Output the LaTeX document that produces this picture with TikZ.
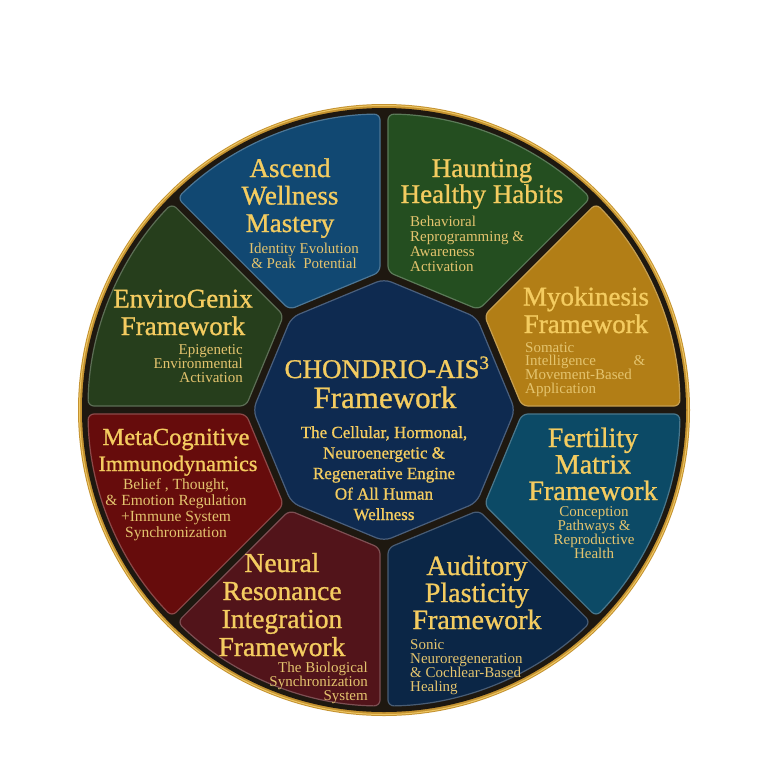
\documentclass[tikz,border=0pt]{standalone}
\usepackage{fontspec}
\setmainfont{Liberation Serif}
\newfontfamily\titlefont[FakeBold=1]{Liberation Serif}
\definecolor{ringgold}{RGB}{196,146,48}
\definecolor{ringlight}{RGB}{238,198,98}
\definecolor{gapdark}{RGB}{30,24,16}
\definecolor{ascc}{RGB}{17,72,114}
\definecolor{hauc}{RGB}{36,78,32}
\definecolor{myoc}{RGB}{178,126,22}
\definecolor{ferc}{RGB}{12,74,102}
\definecolor{audc}{RGB}{11,38,70}
\definecolor{neuc}{RGB}{82,20,26}
\definecolor{metc}{RGB}{102,12,12}
\definecolor{envc}{RGB}{38,62,28}
\definecolor{hubc}{RGB}{14,42,80}
\definecolor{titlegold}{RGB}{244,204,96}
\definecolor{subgold}{RGB}{228,196,110}
\tikzset{
  sector/.style={fill=#1, draw=#1!75!white, line width=1.2pt, rounded corners=6pt},
  ttl/.style={text=titlegold, font=\titlefont\fontsize{27}{27.5}\selectfont, align=center, inner sep=0pt, anchor=base},
  sub/.style={text=subgold, font=\fontsize{15}{14.8}\selectfont, inner sep=0pt, anchor=base},
}
\begin{document}
\begin{tikzpicture}[x=1pt,y=1pt]
\useasboundingbox (0,0) rectangle (768,-777);
% ring
\begin{scope}[shift={(384,-410)}]
  \fill[ringgold] (0,0) circle[radius=306];
  \draw[ringlight, line width=1pt] (0,0) circle[radius=304.5];
  \fill[gapdark] (0,0) circle[radius=302];
  \foreach \a/\c in {22.5/myoc, 67.5/hauc, 112.5/ascc, 157.5/envc, 202.5/metc, 247.5/neuc, 292.5/audc, 337.5/ferc}{
    \path[sector=\c, rotate=\a] (129,-49.1) -- (-21.73:296) arc[start angle=-21.73, end angle=21.73, radius=296] -- (129,49.1) -- cycle;
  }
  \path[sector=hubc, rounded corners=8pt] (0:131) -- (45:131) -- (90:131) -- (135:131) -- (180:131) -- (225:131) -- (270:131) -- (315:131) -- cycle;
\end{scope}
% texts (multi-line nodes: base = last line baseline)
\node[ttl] (ascT) at (290,-232) {Ascend\\Wellness\\Mastery};
\node[sub, align=center] (ascS) at (304,-268) {Identity Evolution\\\& Peak\ \ Potential};
\node[ttl, font=\titlefont\fontsize{27}{26}\selectfont] (hauT) at (482,-203) {Haunting\\Healthy Habits};
\node[sub, align=left, anchor=base west] (hauS) at (410,-271) {Behavioral\\Reprogramming \&\\Awareness\\Activation};
\node[ttl] (myoT) at (586,-333) {Myokinesis\\Framework};
\node[sub, align=left, anchor=base west, text width=120pt, font=\fontsize{15}{13.8}\selectfont] (myoS) at (525,-352) {Somatic\\Intelligence\hfill\&\\Movement-Based\\Application};
\node[ttl] (envT) at (183,-335) {EnviroGenix\\Framework};
\node[sub, align=right, anchor=base east, font=\fontsize{15}{14}\selectfont] (envS) at (243,-382) {Epigenetic\\Environmental\\Activation};
\node[ttl] (hubT1) at (387,-378) {CHONDRIO-AIS\textsuperscript{3}};
\node[ttl, font=\titlefont\fontsize{31}{31}\selectfont] (hubT2) at (385,-408) {Framework};
\node[ttl, font=\titlefont\fontsize{17}{20.5}\selectfont] (hubS) at (384,-520) {The Cellular, Hormonal,\\Neuroenergetic \&\\Regenerative Engine\\Of All Human\\Wellness};
\node[ttl, font=\titlefont\fontsize{24.5}{26}\selectfont] (metT1) at (176,-445) {MetaCognitive};
\node[ttl, font=\titlefont\fontsize{22}{26}\selectfont] (metT2) at (178,-471) {Immunodynamics};
\node[sub, align=center, font=\fontsize{15.5}{16}\selectfont] (metS) at (176,-537) {Belief , Thought,\\\& Emotion Regulation\\+Immune System\\Synchronization};
\node[ttl, font=\titlefont\fontsize{28}{26.5}\selectfont] (ferT) at (593,-500) {Fertility\\Matrix\\Framework};
\node[sub, align=center, font=\fontsize{15}{13.8}\selectfont] (ferS) at (594,-558) {Conception\\Pathways \&\\Reproductive\\Health};
\node[ttl, font=\titlefont\fontsize{27.5}{28}\selectfont] (neuT) at (282,-656) {Neural\\Resonance\\Integration\\Framework};
\node[sub, align=right, anchor=base east, font=\fontsize{15}{14}\selectfont] (neuS) at (368,-700) {The Biological\\Synchronization\\System};
\node[ttl, font=\titlefont\fontsize{28}{27}\selectfont] (audT) at (477,-629) {Auditory\\Plasticity\\Framework};
\node[sub, align=left, anchor=base west, font=\fontsize{15}{14}\selectfont] (audS) at (410,-691) {Sonic\\Neuroregeneration\\\& Cochlear-Based\\Healing};
\end{tikzpicture}
\end{document}
